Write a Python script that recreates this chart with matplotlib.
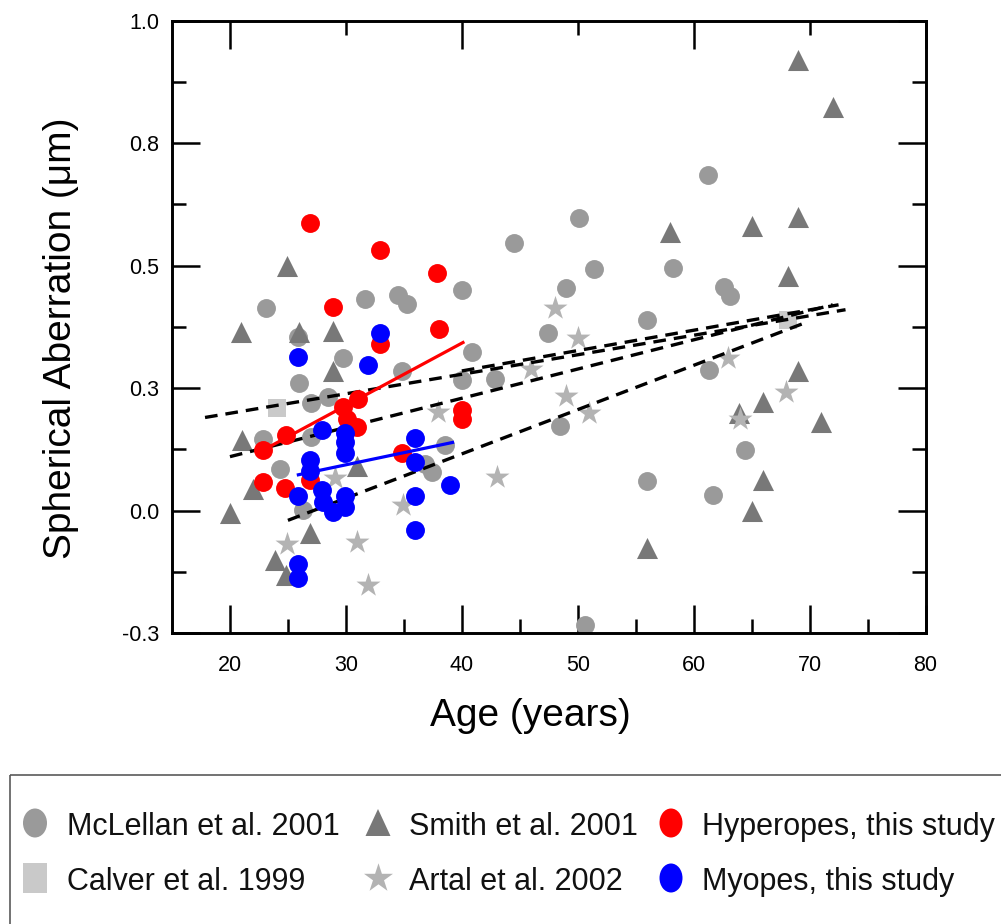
import matplotlib
matplotlib.use("Agg")
import matplotlib.pyplot as plt
from matplotlib.ticker import FixedLocator
from matplotlib.patches import Rectangle, Ellipse, Polygon

plt.rcParams['font.family'] = ['Liberation Sans', 'DejaVu Sans']

# ---------------- data ----------------
mclellan_age = [23.1, 25.9, 31.65, 34.5, 35.3, 40.0, 44.5, 50.1, 51.4, 49.0, 47.4, 58.2, 61.2,
                62.6, 63.1, 56.0, 61.3, 48.5, 64.45, 56.0, 61.7, 50.6, 40.9, 29.75, 25.95, 40.0,
                42.9, 34.85, 27.0, 28.45, 22.85, 27.0, 24.3, 38.55, 37.4, 36.8, 26.3]
mclellan_sa = [0.414, 0.355, 0.431, 0.441, 0.422, 0.451, 0.547, 0.598, 0.494, 0.455, 0.363, 0.496,
               0.684, 0.457, 0.439, 0.388, 0.286, 0.173, 0.124, 0.061, 0.031, -0.233, 0.324, 0.312,
               0.261, 0.267, 0.269, 0.284, 0.220, 0.231, 0.147, 0.151, 0.084, 0.133, 0.078, 0.094,
               0.002]

smith_age = [24.9, 69.0, 72.05, 58.0, 65.0, 69.0, 68.1, 69.0, 66.0, 63.9, 71.0, 66.0, 65.0, 56.0,
             20.95, 25.95, 28.9, 28.9, 21.0, 22.0, 30.95, 20.0, 26.9, 23.9, 24.8]
smith_sa = [0.500, 0.920, 0.824, 0.569, 0.580, 0.600, 0.478, 0.284, 0.222, 0.200, 0.180, 0.063,
            0.000, -0.076, 0.365, 0.365, 0.367, 0.285, 0.145, 0.043, 0.090, -0.006, -0.045,
            -0.100, -0.131]

calver_age = [24.1, 68.1]
calver_sa = [0.210, 0.390]

artal_age = [48.05, 50.0, 46.0, 49.0, 51.0, 63.0, 64.0, 68.0, 37.95, 43.05, 34.9, 24.9, 30.95,
             31.9, 29.1]
artal_sa = [0.414, 0.353, 0.288, 0.233, 0.200, 0.312, 0.186, 0.241, 0.202, 0.069, 0.012, -0.069,
            -0.065, -0.151, 0.067]

hyper_age = [26.9, 32.9, 37.9, 28.9, 38.0, 32.9, 29.75, 31.05, 30.1, 31.0, 24.8, 22.85, 22.85,
             24.75, 26.9, 34.85, 40.0, 40.0]
hyper_sa = [0.588, 0.531, 0.484, 0.416, 0.371, 0.339, 0.212, 0.227, 0.186, 0.171, 0.155, 0.124,
            0.059, 0.045, 0.063, 0.118, 0.186, 0.205]

myope_age = [32.95, 25.9, 31.9, 27.9, 29.9, 29.9, 29.9, 26.9, 26.9, 36.0, 36.0, 25.9, 27.9, 28.0,
             28.9, 29.9, 29.9, 36.0, 39.0, 36.0, 25.9, 25.9]
myope_sa = [0.363, 0.314, 0.298, 0.165, 0.159, 0.139, 0.118, 0.104, 0.080, 0.149, 0.100, 0.029,
            0.041, 0.018, -0.004, 0.029, 0.008, 0.029, 0.053, -0.039, -0.110, -0.137]

# regression lines (end points)
hyper_fit_age = [22.6, 40.1]
hyper_fit_sa = [0.120, 0.343]
myope_fit_age = [25.9, 39.2]
myope_fit_sa = [0.073, 0.139]
prior_fit_ages = [[17.85, 73.1], [20.0, 72.0], [25.0, 69.8], [40.0, 72.5]]
prior_fit_sas = [[0.190, 0.410], [0.110, 0.420], [-0.020, 0.385], [0.285, 0.420]]

x_ticks = [20, 30, 40, 50, 60, 70, 80]
y_ticks = [-0.25, 0.0, 0.25, 0.5, 0.75, 1.0]
y_tick_labels = ['-0.3', '0.0', '0.3', '0.5', '0.8', '1.0']

legend_labels = ['McLellan et al. 2001', 'Smith et al. 2001', 'Hyperopes, this study',
                 'Calver et al. 1999', 'Artal et al. 2002', 'Myopes, this study']

# ---------------- colours ----------------
C_CIRCLE = '#9a9a9a'
C_TRI = '#787878'
C_SQ = '#c9c9c9'
C_STAR = '#b3b3b3'
C_RED = '#ff0000'
C_BLUE = '#0000ff'

W, H = 1001, 924
fig = plt.figure(figsize=(W / 100, H / 100), dpi=100)
L, R, T, B = 172, 925.5, 20.7, 633
ax = fig.add_axes([L / W, 1 - B / H, (R - L) / W, (B - T) / H])
ax.set_xlim(15, 80)
ax.set_ylim(-0.25, 1.0)

ax.scatter(mclellan_age, mclellan_sa, s=185, marker='o', color=C_CIRCLE, linewidths=0, zorder=2)
ax.scatter(calver_age, calver_sa, s=185, marker='s', color=C_SQ, linewidths=0, zorder=2.1)
ax.scatter(smith_age, smith_sa, s=230, marker='^', color=C_TRI, linewidths=0, zorder=2.2)
ax.scatter(artal_age, artal_sa, s=330, marker='*', color=C_STAR, linewidths=0, zorder=2.3)
for xa, ya in zip(prior_fit_ages, prior_fit_sas):
    ax.plot(xa, ya, color='black', lw=2.4, linestyle=(0, (3.8, 2.4)), zorder=3)
ax.scatter(hyper_age, hyper_sa, s=185, marker='o', color=C_RED, linewidths=0, zorder=4)
ax.plot(hyper_fit_age, hyper_fit_sa, color=C_RED, lw=2.3, zorder=4.5)
ax.scatter(myope_age, myope_sa, s=185, marker='o', color=C_BLUE, linewidths=0, zorder=5)
ax.plot(myope_fit_age, myope_fit_sa, color=C_BLUE, lw=2.3, zorder=5.5)

# ticks
ax.xaxis.set_major_locator(FixedLocator(x_ticks))
ax.xaxis.set_minor_locator(FixedLocator([25, 35, 45, 55, 65, 75]))
ax.yaxis.set_major_locator(FixedLocator(y_ticks))
ax.yaxis.set_minor_locator(FixedLocator([-0.125, 0.125, 0.375, 0.625, 0.875]))
ax.set_yticklabels(y_tick_labels)
ax.tick_params(which='major', direction='in', length=20, width=1.8, labelsize=15.5,
               top=False, right=True, color='black')
ax.tick_params(which='minor', direction='in', length=10, width=1.8, top=False, right=True)
ax.tick_params(axis='x', pad=16)
ax.tick_params(axis='y', pad=9)
for sp in ax.spines.values():
    sp.set_linewidth(1.9)

ax2 = ax.twiny()
ax2.set_xlim(15, 80)
ax2.xaxis.set_major_locator(FixedLocator([20, 40, 60, 80]))
ax2.xaxis.set_minor_locator(FixedLocator([30, 50, 70]))
ax2.tick_params(which='major', direction='in', length=20, width=1.8, labeltop=False)
ax2.tick_params(which='minor', direction='in', length=10, width=1.8)
for sp in ax2.spines.values():
    sp.set_linewidth(1.9)

ax.set_xlabel('Age (years)', fontsize=28)
ax.set_ylabel('Spherical Aberration (\u03bcm)', fontsize=28)
ax.xaxis.label.set_va('center')
ax.yaxis.label.set_va('center')
ax.xaxis.set_label_coords((530 - L) / (R - L), (B - 716) / (B - T))
ax.yaxis.set_label_coords((61 - L) / (R - L), (B - 338) / (B - T))

# ---------------- legend (pixel overlay) ----------------
lax = fig.add_axes([0, 0, 1, 1], facecolor='none')
lax.set_xlim(0, W)
lax.set_ylim(H, 0)
lax.axis('off')
lax.add_patch(Rectangle((10, 775), 1200, 300, fill=False, edgecolor='#5a5a5a', lw=1.2))

r1, r2 = 823, 878
col_m = [35, 378, 671]
col_t = [67, 409, 702]
lax.add_patch(Ellipse((col_m[0], r1), 24, 29, color=C_CIRCLE, lw=0))
lax.add_patch(Polygon([[col_m[1], r1 - 14], [col_m[1] - 12.5, r1 + 13], [col_m[1] + 12.5, r1 + 13]],
                      closed=True, color=C_TRI, lw=0))
lax.add_patch(Ellipse((col_m[2], r1), 23, 29, color=C_RED, lw=0))
lax.add_patch(Rectangle((col_m[0] - 12, r2 - 15), 24, 30, color=C_SQ, lw=0))
lax.scatter([col_m[1]], [r2], s=480, marker='*', color=C_STAR, linewidths=0)
lax.add_patch(Ellipse((col_m[2], r2), 23, 29, color=C_BLUE, lw=0))

ys = [r1, r1, r1, r2, r2, r2]
xs = col_t + col_t
for lab, xt, yt in zip(legend_labels, xs, ys):
    lax.text(xt, yt + 12, lab, fontsize=22, ha='left', va='baseline', color='#111111')

fig.savefig('out.png', dpi=100)
